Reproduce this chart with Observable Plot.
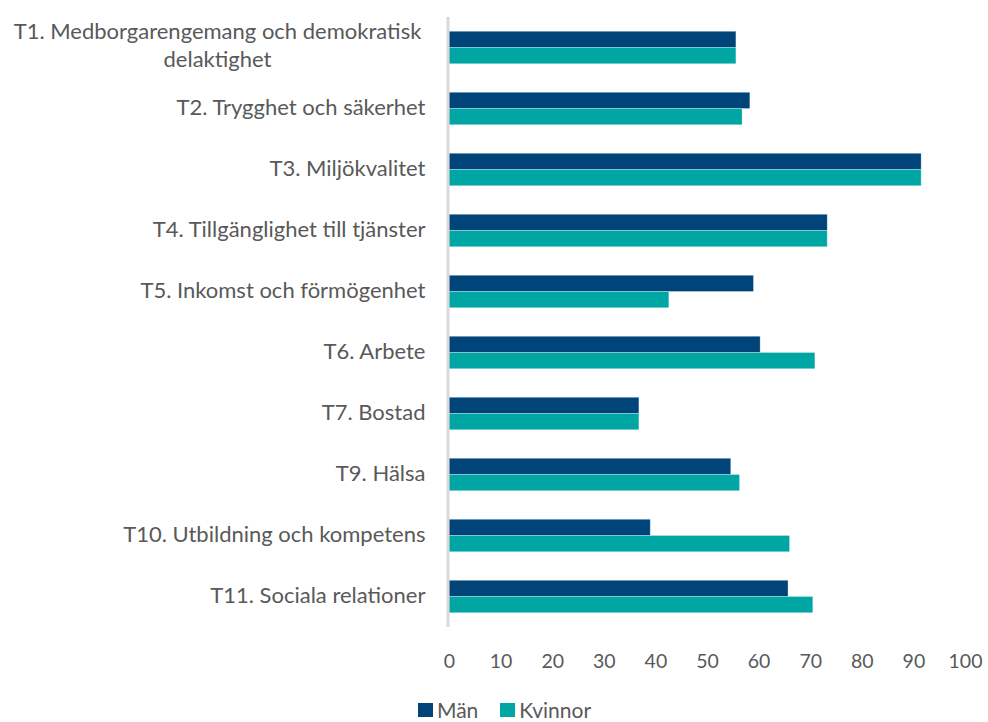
<!DOCTYPE html>
<html>
<head>
<meta charset="utf-8">
<script src="https://cdn.jsdelivr.net/npm/d3@7"></script>
<script src="https://cdn.jsdelivr.net/npm/@observablehq/plot@0.6"></script>
<style>
  html, body { margin: 0; padding: 0; background: #fff; overflow: hidden; }
  #chart { width: 988px; }
  .legend { display: flex; align-items: center; height: 24px; line-height: 24px; padding-left: 418px; font-family: Lato, "Open Sans", sans-serif; font-size: 21px; color: #595959; }
  .legend .sw { width: 15px; height: 14px; display: inline-block; margin-right: 4px; }
  .legend .item { display: flex; align-items: center; margin-right: 22px; }
</style>
</head>
<body>
<div id="chart"></div>
<script>
const categories = [
  "T1. Medborgarengemang och demokratisk\ndelaktighet",
  "T2. Trygghet och säkerhet",
  "T3. Miljökvalitet",
  "T4. Tillgänglighet till tjänster",
  "T5. Inkomst och förmögenhet",
  "T6. Arbete",
  "T7. Bostad",
  "T9. Hälsa",
  "T10. Utbildning och kompetens",
  "T11. Sociala relationer"
];
const series = ["Män", "Kvinnor"];
const man     = [55.6, 58.3, 91.5, 73.3, 59.0, 60.3, 36.8, 54.6, 39.0, 65.7];
const kvinnor = [55.6, 56.8, 91.5, 73.3, 42.6, 70.9, 36.8, 56.3, 66.0, 70.5];
const xTicks = [0, 10, 20, 30, 40, 50, 60, 70, 80, 90, 100];
const colors = ["#00447a", "#00a6a4"];

const data = [];
categories.forEach((c, i) => {
  data.push({cat: c, series: "Män", value: man[i]});
  data.push({cat: c, series: "Kvinnor", value: kvinnor[i]});
});

const single = categories.filter(c => !c.includes("\n"));
const multi = categories.filter(c => c.includes("\n"));

const font = "Lato, 'Open Sans', sans-serif";

const chart = Plot.plot({
  width: 988,
  height: 698,
  marginLeft: 449,
  marginRight: 23,
  marginTop: 14,
  marginBottom: 68,
  style: {fontFamily: font, fontSize: "19.5px", color: "#595959", background: "#fff"},
  x: {domain: [0, 100], ticks: xTicks, tickSize: 0, tickPadding: 27, label: null, axis: "bottom"},
  fy: {domain: categories, padding: 0, axis: null},
  y: {domain: series, paddingInner: 0, paddingOuter: 0.88, round: false, axis: null},
  color: {domain: series, range: colors},
  marks: [
    Plot.barX(data, {x: "value", y: "series", fy: "cat", fill: "series", stroke: "#ffffff", strokeOpacity: 0.35, strokeWidth: 0.8}),
    Plot.ruleX([0], {stroke: "#d9d9d9", strokeWidth: 3, dx: -1.5}),
    Plot.text(single, {fy: d => d, text: d => d, frameAnchor: "left", textAnchor: "end", dx: -24, dy: -1, fill: "#595959", fontSize: 22}),
    Plot.text(multi, {fy: d => d, text: d => d, frameAnchor: "left", textAnchor: "middle", dx: -232, dy: -4, fill: "#595959", fontSize: 22, lineHeight: 1.25})
  ]
});
document.getElementById("chart").appendChild(chart);

const legend = document.createElement("div");
legend.className = "legend";
series.forEach((s, i) => {
  const item = document.createElement("span");
  item.className = "item";
  const sw = document.createElement("span");
  sw.className = "sw";
  sw.style.background = colors[i];
  item.appendChild(sw);
  item.appendChild(document.createTextNode(s));
  legend.appendChild(item);
});
document.getElementById("chart").appendChild(legend);
</script>
</body>
</html>
